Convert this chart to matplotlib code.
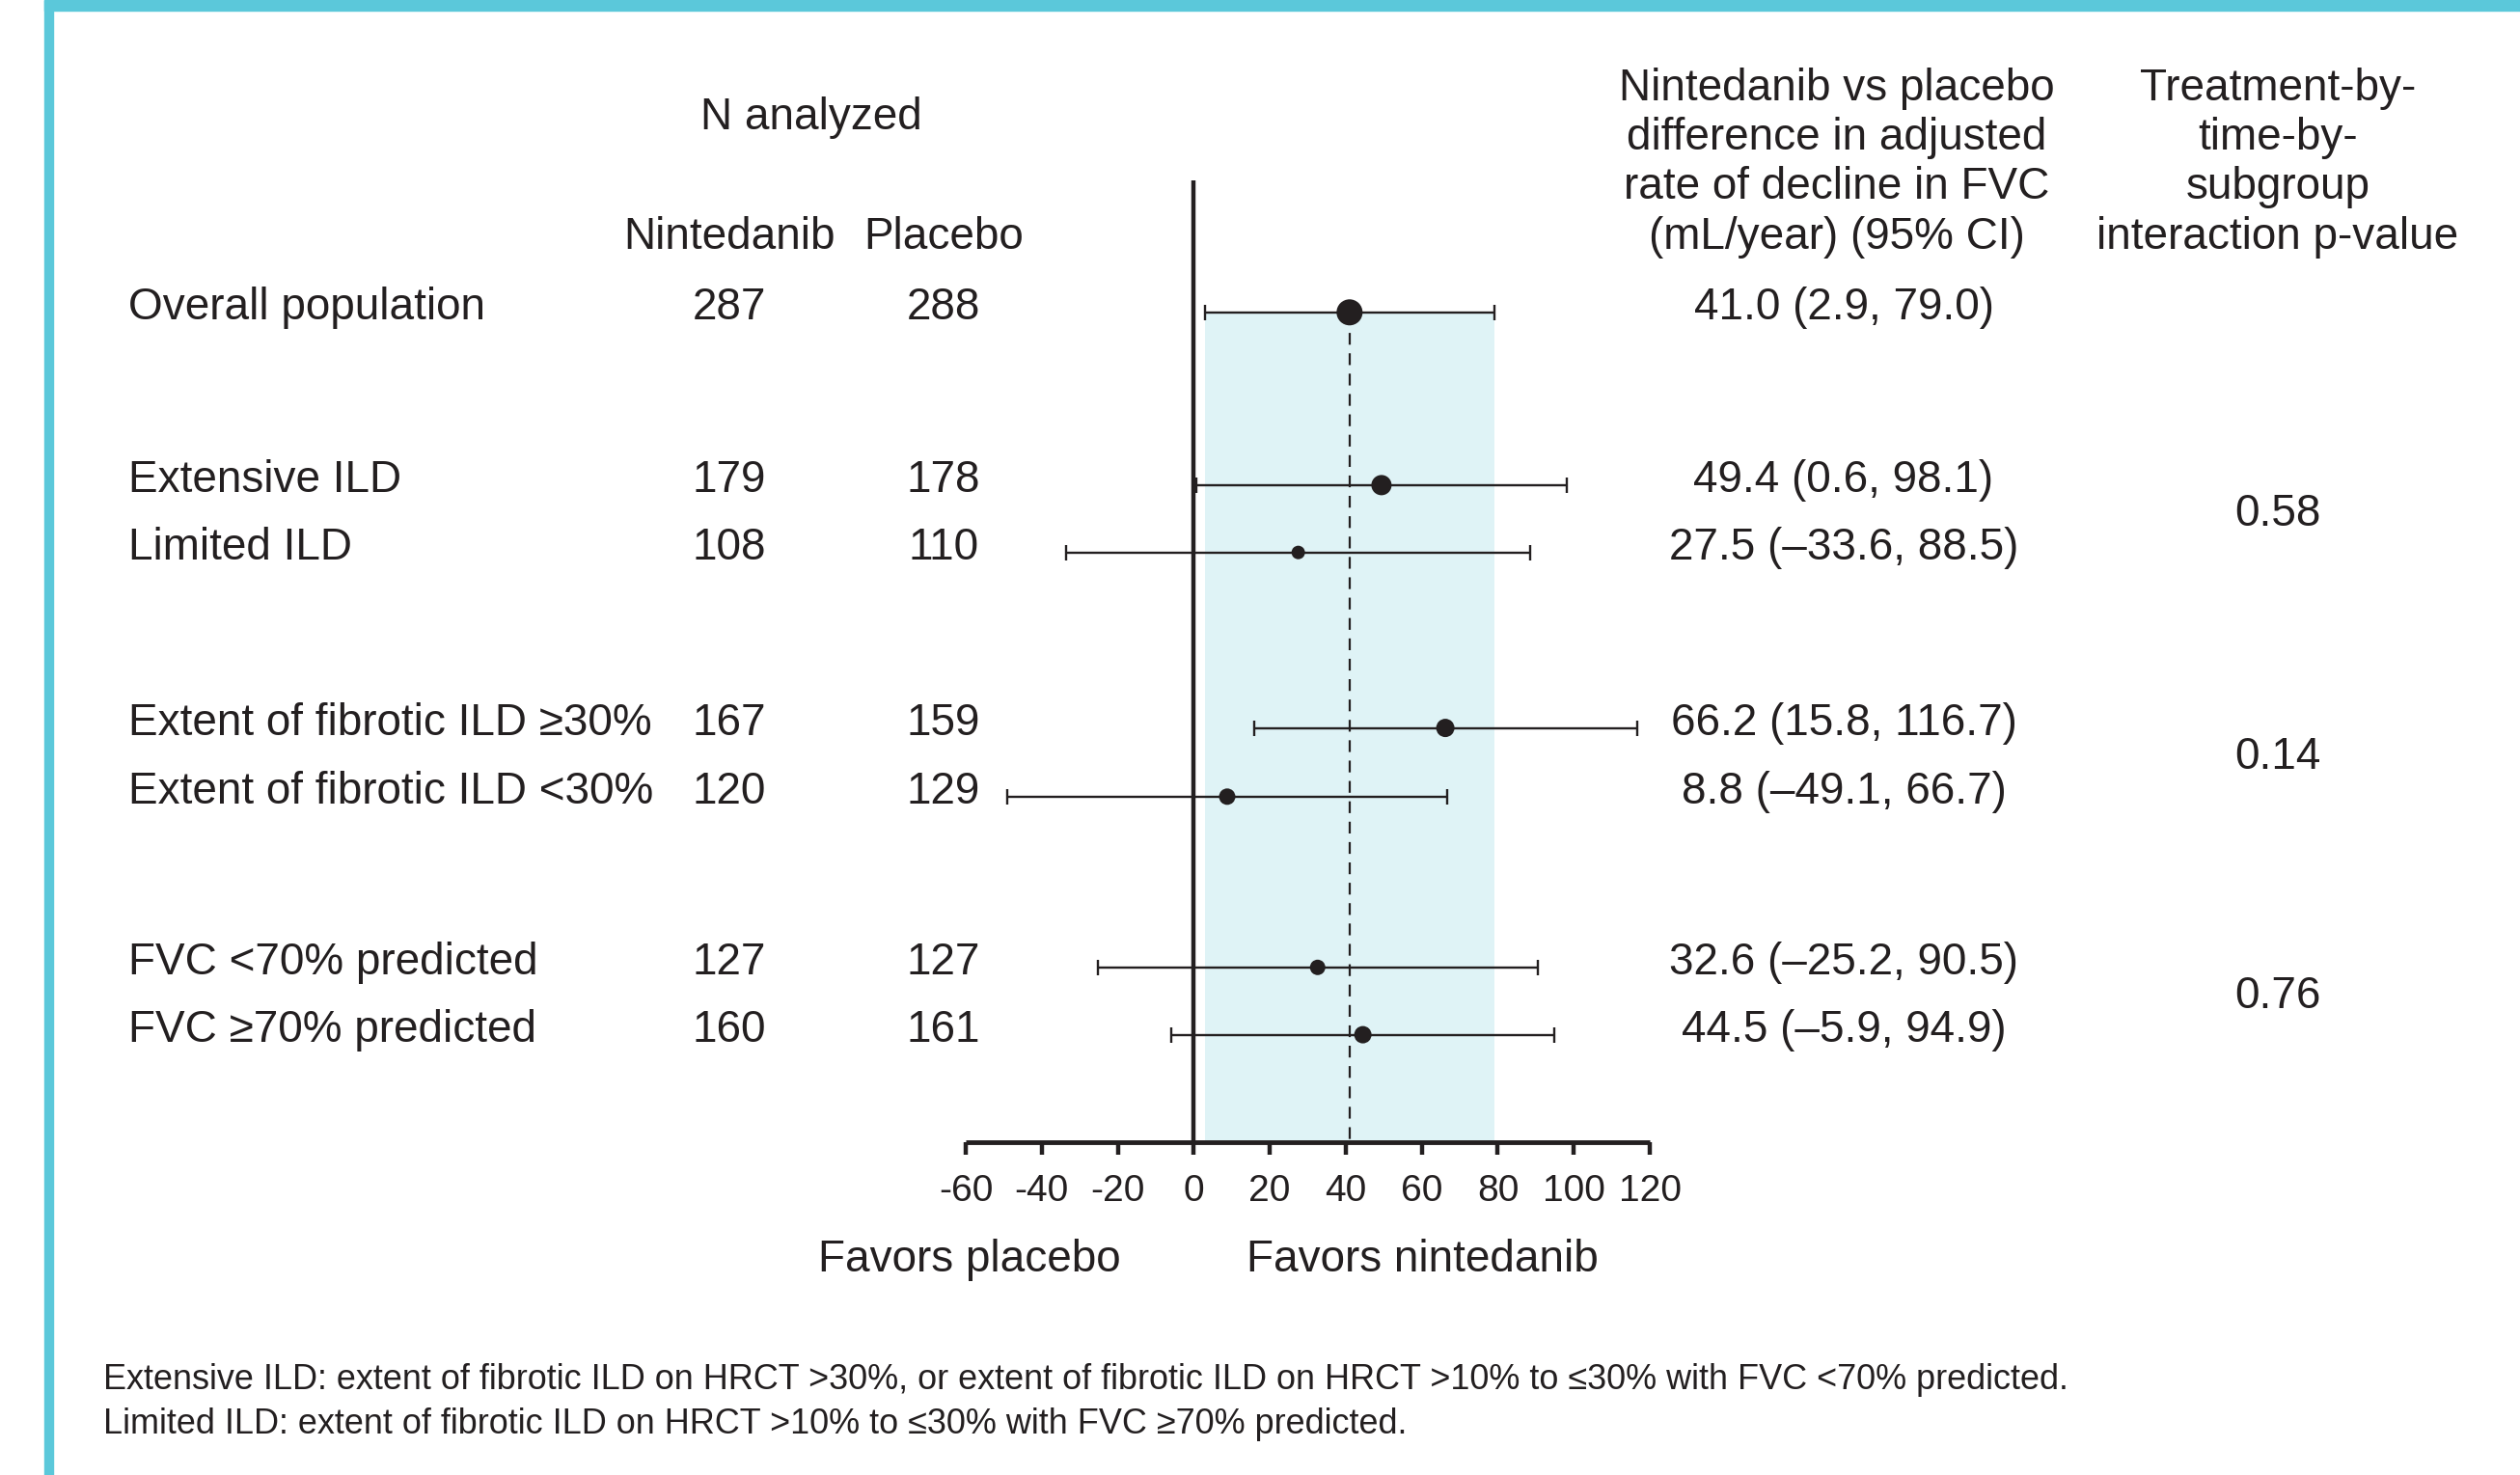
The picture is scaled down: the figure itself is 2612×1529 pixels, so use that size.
import matplotlib
matplotlib.use("Agg")
import matplotlib.pyplot as plt
import matplotlib.transforms as mtransforms
from matplotlib.patches import Rectangle
import numpy as np

# ---------------- data ----------------
subgroups = ["Overall population", "Extensive ILD", "Limited ILD",
             "Extent of fibrotic ILD \u226530%", "Extent of fibrotic ILD <30%",
             "FVC <70% predicted", "FVC \u226570% predicted"]
n_nintedanib = [287, 179, 108, 167, 120, 127, 160]
n_placebo = [288, 178, 110, 159, 129, 127, 161]
estimate = [41.0, 49.4, 27.5, 66.2, 8.8, 32.6, 44.5]
ci_low = [2.9, 0.6, -33.6, 15.8, -49.1, -25.2, -5.9]
ci_high = [79.0, 98.1, 88.5, 116.7, 66.7, 90.5, 94.9]
interaction_p = ["0.58", "0.14", "0.76"]
x_ticks = [-60, -40, -20, 0, 20, 40, 60, 80, 100, 120]

# ---------------- layout / style ----------------
W, H = 2612, 1529
DARK = "#231f20"
CYAN = "#5bc8da"
SHADE = "#dff3f6"
FONT = "Liberation Sans"
FS = 33
row_pos = [0, 2.54, 3.53, 6.11, 7.12, 9.63, 10.62]   # row layout positions
pair_rows = [(1, 2), (3, 4), (5, 6)]
marker_diam_px = [27, 21, 14, 19, 17, 16, 18]
Y_TOP, Y_BOT = -1.94, 12.2

plt.rcParams["font.family"] = [FONT, "DejaVu Sans"]
fig = plt.figure(figsize=(W / 100, H / 100), dpi=100)
fig.patch.set_facecolor("white")

def fx(px):
    return px / W

def fy(py):
    return 1 - py / H

# border
fig.patches.append(Rectangle((fx(46), 0), fx(9), 1, transform=fig.transFigure,
                             color=CYAN, zorder=0))
fig.patches.append(Rectangle((fx(46), fy(11)), 1, fy(0) - fy(11), transform=fig.transFigure,
                             color=CYAN, zorder=0))

ax = fig.add_axes([fx(1001), fy(1184), fx(1710) - fx(1001), fy(187) - fy(1184)])
ax.set_xlim(-60, 120)
ax.set_ylim(Y_BOT, Y_TOP)
for s in ["top", "right", "left"]:
    ax.spines[s].set_visible(False)
ax.spines["bottom"].set_linewidth(3.5)
ax.spines["bottom"].set_color(DARK)
ax.spines["bottom"].set_capstyle("butt")
ax.set_yticks([])
ax.set_xticks(x_ticks)
ax.set_xticklabels([str(t) for t in x_ticks])
ax.tick_params(axis="x", length=9.5, width=3.2, color=DARK, labelsize=28,
               labelcolor=DARK, pad=14)
ax.patch.set_alpha(0)

est = np.array(estimate)
lo = np.array(ci_low)
hi = np.array(ci_high)
ypos = np.array(row_pos)

# shading for overall CI
ax.fill_betweenx([ypos[0], Y_BOT], lo[0], hi[0], color=SHADE, lw=0, zorder=1)
# zero line
ax.axvline(0, color=DARK, lw=3.2, zorder=3)
# overall estimate dashed line
ax.vlines(est[0], ypos[0], Y_BOT, colors=DARK, linestyles=(0, (5.5, 4)), lw=1.6, zorder=2)
# error bars
ax.errorbar(est, ypos, xerr=[est - lo, hi - est], fmt="none", ecolor=DARK,
            elinewidth=1.7, capsize=5.5, capthick=1.7, zorder=4)
sizes = (np.array(marker_diam_px) * 0.72) ** 2
ax.scatter(est, ypos, s=sizes, color=DARK, zorder=5, linewidths=0)

# text columns (x in figure, y in data), nudged up a few pixels
tr = mtransforms.blended_transform_factory(fig.transFigure, ax.transData) + \
    mtransforms.ScaledTranslation(0, 5 / 100, fig.dpi_scale_trans)

def fmt(v):
    return f"{v:.1f}".replace("-", "\u2013")

for i, name in enumerate(subgroups):
    y = ypos[i]
    ax.text(fx(133), y, name, transform=tr, ha="left", va="center", fontsize=FS,
            color=DARK, clip_on=False)
    ax.text(fx(756), y, str(n_nintedanib[i]), transform=tr, ha="center", va="center",
            fontsize=FS, color=DARK, clip_on=False)
    ax.text(fx(978), y, str(n_placebo[i]), transform=tr, ha="center", va="center",
            fontsize=FS, color=DARK, clip_on=False)
    ax.text(fx(1911), y, f"{fmt(estimate[i])} ({fmt(ci_low[i])}, {fmt(ci_high[i])})",
            transform=tr, ha="center", va="center", fontsize=FS, color=DARK, clip_on=False)

for (a, b), p in zip(pair_rows, interaction_p):
    ax.text(fx(2361), (ypos[a] + ypos[b]) / 2, p, transform=tr, ha="center", va="center",
            fontsize=FS, color=DARK, clip_on=False)

# headers
fig.text(fx(841), fy(122), "N analyzed", ha="center", va="center", fontsize=FS, color=DARK)
fig.text(fx(756), fy(246), "Nintedanib", ha="center", va="center", fontsize=FS, color=DARK)
fig.text(fx(978), fy(246), "Placebo", ha="center", va="center", fontsize=FS, color=DARK)
hdr_y = [92, 143, 194, 246]
res_hdr = ["Nintedanib vs placebo", "difference in adjusted", "rate of decline in FVC",
           "(mL/year) (95% CI)"]
p_hdr = ["Treatment-by-", "time-by-", "subgroup", "interaction p-value"]
for yy, t in zip(hdr_y, res_hdr):
    fig.text(fx(1904), fy(yy), t, ha="center", va="center", fontsize=FS, color=DARK)
for yy, t in zip(hdr_y, p_hdr):
    fig.text(fx(2361), fy(yy), t, ha="center", va="center", fontsize=FS, color=DARK)

fig.text(fx(1005), fy(1306), "Favors placebo", ha="center", va="center", fontsize=FS, color=DARK)
fig.text(fx(1474), fy(1306), "Favors nintedanib", ha="center", va="center", fontsize=FS, color=DARK)

fig.text(fx(107), fy(1430),
         "Extensive ILD: extent of fibrotic ILD on HRCT >30%, or extent of fibrotic ILD on HRCT >10% to \u226430% with FVC <70% predicted.",
         ha="left", va="center", fontsize=25.9, color=DARK)
fig.text(fx(107), fy(1477),
         "Limited ILD: extent of fibrotic ILD on HRCT >10% to \u226430% with FVC \u226570% predicted.",
         ha="left", va="center", fontsize=25.9, color=DARK)

fig.savefig("out.png", dpi=100, facecolor="white")
